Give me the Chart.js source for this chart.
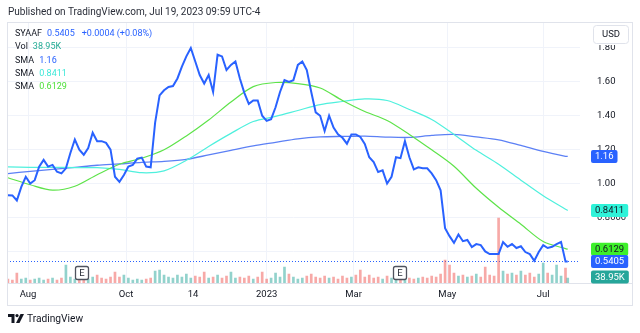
<!DOCTYPE html>
<html>
<head>
<meta charset="utf-8">
<script src="https://cdn.jsdelivr.net/npm/chart.js@4.4.0/dist/chart.umd.min.js"></script>
<style>
html, body { margin: 0; padding: 0; background: #fff; }
#wrap { position: relative; width: 640px; height: 333px; font-family: Roboto, sans-serif; color: #131722; }
#myChart { position: absolute; left: 0; top: 0; }
.txt { position: absolute; white-space: nowrap; }
#header { left: 8px; top: 6px; font-size: 10px; line-height: 12px; color: #2a2e39; }
#legend { left: 15px; top: 27px; font-size: 9px; line-height: 13.3px; }
#legend span { margin-left: 5px; }
#footer { left: 27px; top: 313px; font-size: 10.2px; line-height: 12px; color: #131722; }
#logo { position: absolute; left: 8px; top: 314px; }
</style>
</head>
<body>
<div id="wrap">
  <canvas id="myChart" width="640" height="333"></canvas>
  <div id="header" class="txt">Published on TradingView.com, Jul 19, 2023 09:59 UTC-4</div>
  <div id="legend" class="txt">
    <div>SYAAF<span style="color:#2962ff">0.5405</span><span style="color:#2962ff;margin-left:7px">+0.0004 (+0.08%)</span></div>
    <div>Vol<span style="color:#22ab94">38.95K</span></div>
    <div>SMA<span style="color:#2962ff">1.16</span></div>
    <div>SMA<span style="color:#3de8d8">0.8411</span></div>
    <div>SMA<span style="color:#4ee03a">0.6129</span></div>
  </div>
  <svg id="logo" width="16" height="10" viewBox="0 0 16 10">
    <path d="M0 0 H6.5 V9 H3.5 V3 H0 Z" fill="#131722"/>
    <circle cx="9" cy="1.6" r="1.6" fill="#131722"/>
    <path d="M12.5 0 H16 L11.5 9 H8 Z" fill="#131722"/>
  </svg>
  <div id="footer" class="txt">TradingView</div>
</div>
<script>
// axis ticks (x in trading-day index, Aug 1 2022 = 9)
var xTickIndex = [9, 53, 83, 116, 155, 197, 240];
var xTickLabels = ['Aug', 'Oct', '14', '2023', 'Mar', 'May', 'Jul'];
var yTicks = [0.6, 0.8, 1.0, 1.2, 1.4, 1.6, 1.8];
var yTickLabels = ['0.6000', '0.8000', '1.00', '1.20', '1.40', '1.60', '1.80'];

// daily close, every 2nd session
var priceStep = 2;
var price = [
  0.931, 0.93, 0.90, 0.98, 1.04, 1.00, 1.02, 1.10, 1.14, 1.10,
  1.11, 1.07, 1.06, 1.09, 1.18, 1.26, 1.20, 1.17, 1.21, 1.30,
  1.25, 1.25, 1.24, 1.20, 1.04, 1.01, 1.05, 1.10, 1.11, 1.147,
  1.153, 1.10, 1.096, 1.36, 1.52, 1.55, 1.57, 1.575, 1.62, 1.69,
  1.75, 1.80, 1.72, 1.64, 1.59, 1.64, 1.54, 1.76, 1.75, 1.67,
  1.70, 1.72, 1.62, 1.535, 1.47, 1.49, 1.49, 1.40, 1.37, 1.38,
  1.45, 1.54, 1.61, 1.60, 1.61, 1.70, 1.72, 1.67, 1.54, 1.42,
  1.40, 1.31, 1.40, 1.33, 1.29, 1.27, 1.235, 1.29, 1.29, 1.275,
  1.234, 1.155, 1.127, 1.068, 1.078, 1.00, 1.04, 1.155, 1.15, 1.25,
  1.155, 1.084, 1.096, 1.09, 1.09, 1.06, 1.02, 0.96, 0.737, 0.69,
  0.65, 0.70, 0.66, 0.667, 0.625, 0.643, 0.637, 0.60, 0.584, 0.584,
  0.584, 0.655, 0.627, 0.643, 0.62, 0.63, 0.596, 0.584, 0.545, 0.596,
  0.637, 0.62, 0.627, 0.643, 0.656, 0.5401
];
var lastIndex = 251;
var lastClose = 0.5405;

// moving averages, every 10th session
var smaStep = 10;
var smaLong = [1.059, 1.072, 1.084, 1.096, 1.108, 1.116, 1.125, 1.131, 1.143, 1.169, 1.196, 1.222, 1.243,
  1.264, 1.275, 1.278, 1.28, 1.274, 1.272, 1.284, 1.29, 1.275, 1.258, 1.225, 1.19, 1.161];
var smaMid = [1.098, 1.096, 1.096, 1.094, 1.094, 1.084, 1.064, 1.075, 1.137, 1.219, 1.296, 1.366, 1.396,
  1.431, 1.466, 1.484, 1.499, 1.49, 1.437, 1.378, 1.29, 1.196, 1.114, 1.02, 0.928, 0.849];
var smaShort = [1.034, 0.993, 0.961, 0.984, 1.052, 1.114, 1.149, 1.199, 1.281, 1.375, 1.481, 1.572, 1.596,
  1.59, 1.564, 1.49, 1.425, 1.372, 1.29, 1.199, 1.102, 0.972, 0.86, 0.76, 0.658, 0.616];
var smaLast = [1.16, 0.8411, 0.6129];

// volume in thousands, every 2nd session
var volume = [
  31, 23, 78, 31, 39, 23, 31, 39, 23, 31,
  39, 23, 39, 140, 47, 31, 23, 39, 31, 47,
  62, 39, 31, 47, 86, 47, 62, 39, 23, 31,
  23, 31, 39, 94, 101, 62, 47, 39, 62, 47,
  70, 39, 55, 47, 86, 39, 47, 62, 39, 55,
  86, 39, 47, 39, 55, 31, 47, 86, 31, 39,
  78, 47, 125, 70, 47, 31, 39, 55, 70, 47,
  39, 55, 39, 47, 31, 55, 39, 47, 62, 101,
  47, 62, 39, 47, 31, 55, 39, 70, 47, 62,
  39, 31, 39, 47, 39, 55, 47, 70, 179, 140,
  78, 55, 62, 47, 55, 70, 47, 125, 62, 55,
  507, 94, 70, 78, 62, 94, 62, 78, 47, 70,
  156, 78, 62, 140, 55, 117
];
var lastVolume = 38.95;

var earningsIndex = [33, 176];

var BLUE = '#2962ff';
var UP = 'rgba(38,166,154,0.5)';
var DOWN = 'rgba(239,83,80,0.5)';
var FONT = 'Roboto, sans-serif';

function pts(arr, step, last) {
  var out = arr.map(function (v, i) { return { x: i * step, y: v }; });
  out.push({ x: lastIndex, y: last });
  return out;
}

var pricePts = pts(price, priceStep, lastClose);
var volPts = pts(volume, priceStep, lastVolume);
var volColors = pricePts.map(function (p, i) {
  var prev = i ? pricePts[i - 1].y : p.y;
  return p.y > prev ? UP : DOWN;
});

function box(ctx, x, y, text, bg, fg) {
  ctx.font = '9.5px ' + FONT;
  var w = ctx.measureText(text).width + 8;
  ctx.fillStyle = bg;
  ctx.beginPath();
  ctx.roundRect(x, y - 6.5, w, 13, 2);
  ctx.fill();
  ctx.fillStyle = fg;
  ctx.textAlign = 'left';
  ctx.textBaseline = 'middle';
  ctx.fillText(text, x + 4, y + 0.5);
}

var overlay = {
  id: 'overlay',
  beforeDatasetsDraw: function (chart) {
    var ctx = chart.ctx, a = chart.chartArea;
    var y = chart.scales.y.getPixelForValue(lastClose);
    ctx.save();
    ctx.strokeStyle = BLUE;
    ctx.lineWidth = 1;
    ctx.setLineDash([1, 2]);
    ctx.beginPath();
    ctx.moveTo(a.left, Math.round(y) + 0.5);
    ctx.lineTo(a.right, Math.round(y) + 0.5);
    ctx.stroke();
    ctx.restore();
  },
  afterDraw: function (chart) {
    var ctx = chart.ctx, a = chart.chartArea, ys = chart.scales.y, xs = chart.scales.x;
    ctx.save();
    // frame
    ctx.strokeStyle = '#e0e3eb';
    ctx.lineWidth = 1;
    ctx.strokeRect(7.5, 22.5, 625, 283);
    ctx.beginPath();
    ctx.moveTo(7, a.bottom + 0.5);
    ctx.lineTo(632, a.bottom + 0.5);
    ctx.stroke();
    // earnings markers
    earningsIndex.forEach(function (i) {
      var cx = Math.round(xs.getPixelForValue(i));
      ctx.fillStyle = '#fff';
      ctx.strokeStyle = '#50535e';
      ctx.lineWidth = 1.3;
      ctx.beginPath();
      ctx.roundRect(cx - 6.5, 266.5, 13, 13, 2);
      ctx.fill();
      ctx.stroke();
      ctx.fillStyle = '#2a2e39';
      ctx.font = '9.5px ' + FONT;
      ctx.textAlign = 'center';
      ctx.textBaseline = 'middle';
      ctx.fillText('E', cx, 273.5);
    });
    // price scale labels
    var bx = 591;
    box(ctx, bx, ys.getPixelForValue(smaLast[0]), '1.16', BLUE, '#fff');
    box(ctx, bx, ys.getPixelForValue(smaLast[1]), '0.8411', '#2ff3d9', '#131722');
    box(ctx, bx, ys.getPixelForValue(smaLast[2]), '0.6129', '#3ef02b', '#131722');
    box(ctx, bx, ys.getPixelForValue(lastClose), '0.5405', BLUE, '#fff');
    box(ctx, bx, 277, '38.95K', '#26a69a', '#fff');
    // currency button, covering the top of the highest tick label
    ctx.fillStyle = '#fff';
    ctx.fillRect(586, 23, 45, 22);
    ctx.strokeStyle = '#e0e3eb';
    ctx.lineWidth = 1;
    ctx.beginPath();
    ctx.roundRect(593.5, 25.5, 35, 18, 3);
    ctx.fill();
    ctx.stroke();
    ctx.fillStyle = '#131722';
    ctx.font = '9.5px ' + FONT;
    ctx.textAlign = 'center';
    ctx.textBaseline = 'middle';
    ctx.fillText('USD', 611, 35);
    ctx.restore();
  }
};

function drawChart() {
  var ctx = document.getElementById('myChart').getContext('2d');
  new Chart(ctx, {
    type: 'line',
    data: {
      datasets: [
        { data: pricePts, borderColor: BLUE, borderWidth: 2, pointRadius: 0, tension: 0, order: 0 },
        { data: pts(smaShort, smaStep, smaLast[2]), borderColor: '#5ee34a', borderWidth: 1.2, pointRadius: 0, tension: 0.3, order: 1 },
        { data: pts(smaMid, smaStep, smaLast[1]), borderColor: '#4ff0dd', borderWidth: 1.2, pointRadius: 0, tension: 0.3, order: 2 },
        { data: pts(smaLong, smaStep, smaLast[0]), borderColor: '#5c80f5', borderWidth: 1.3, pointRadius: 0, tension: 0.3, order: 3 },
        { type: 'bar', data: volPts, yAxisID: 'yv', backgroundColor: volColors, barThickness: 2, order: 10 }
      ]
    },
    options: {
      responsive: false,
      animation: false,
      devicePixelRatio: 1,
      layout: { padding: { left: 7, top: 22, right: 8, bottom: 28 } },
      plugins: { legend: { display: false }, tooltip: { enabled: false } },
      scales: {
        x: {
          type: 'linear',
          offset: false,
          min: -0.417,
          max: 256.5,
          afterBuildTicks: function (s) { s.ticks = xTickIndex.map(function (v) { return { value: v }; }); },
          afterFit: function (s) { s.height = 22; },
          grid: { color: '#f0f3fa', drawTicks: false, offset: false },
          border: { display: false },
          ticks: {
            autoSkip: false, maxRotation: 0, padding: 6, color: '#131722',
            font: { family: FONT, size: 9.5 },
            callback: function (v, i) { return xTickLabels[i]; }
          }
        },
        y: {
          position: 'right',
          min: 0.41353,
          max: 1.9488,
          afterBuildTicks: function (s) { s.ticks = yTicks.map(function (v) { return { value: v }; }); },
          afterFit: function (s) { s.width = 52; },
          grid: { color: '#f0f3fa', drawTicks: false },
          border: { display: false },
          ticks: {
            padding: 17, color: '#131722',
            font: { family: FONT, size: 9.5 },
            callback: function (v, i) { return yTickLabels[i]; }
          }
        },
        yv: { display: false, min: 0, max: 2036 }
      }
    },
    plugins: [overlay]
  });
}

document.addEventListener('DOMContentLoaded', drawChart);
</script>
</body>
</html>
